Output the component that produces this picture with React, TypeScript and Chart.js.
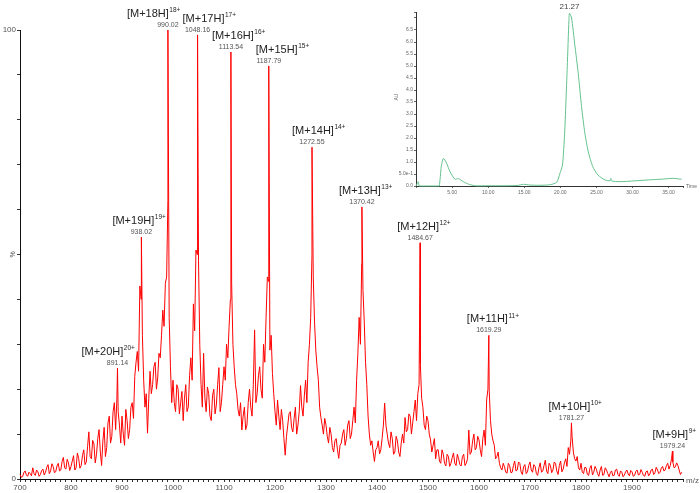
import React, { useEffect, useRef } from 'react';
import { Chart, registerables } from 'chart.js';

Chart.register(...registerables);

const FONT = '"Liberation Sans", Arial, Helvetica, sans-serif';

// ---- Mass spectrum (m/z vs relative intensity %) ----
// samples at 700, 705, 710, ... 1995
const noiseStartMz = 700;
const noiseStepMz = 5;
const noiseIntensity = [
  1.0, 0.5, 1.8, 0.6, 1.2, 2.5, 0.8, 1.6, 1.0, 2.2,
  1.5, 3.2, 1.8, 2.8, 1.6, 3.5, 2.0, 4.8, 2.2, 3.6,
  2.8, 5.2, 2.5, 4.6, 3.0, 6.5, 3.8, 10.5, 4.5, 7.8,
  5.5, 11.0, 3.0, 11.5, 7.0, 14.0, 9.5, 17.0, 18.0, 12.0,
  14.0, 7.5, 13.0, 11.0, 17.0, 22.8, 28.4, 43.0, 32.0, 16.0,
  10.2, 24.0, 21.0, 26.0, 22.5, 27.0, 37.6, 43.6, 62.0, 25.0,
  22.0, 15.0, 20.0, 17.0, 13.0, 21.0, 16.0, 27.0, 39.0, 51.0,
  48.7, 21.0, 28.0, 15.0, 19.0, 13.0, 20.0, 16.5, 24.8, 17.0,
  25.0, 30.0, 34.0, 43.6, 25.0, 19.0, 14.0, 10.9, 16.0, 12.0,
  20.0, 14.0, 33.2, 19.0, 25.0, 18.0, 26.0, 45.0, 28.7, 23.5,
  15.0, 17.6, 11.0, 13.0, 5.3, 12.0, 15.0, 10.5, 16.0, 12.0,
  20.8, 14.0, 22.0, 26.0, 36.0, 45.0, 28.7, 22.0, 13.7, 10.0,
  12.0, 8.0, 10.0, 6.0, 9.0, 4.6, 8.0, 11.0, 9.0, 13.0,
  10.0, 16.0, 22.0, 36.0, 48.0, 35.0, 21.0, 10.0, 8.5, 3.9,
  7.0, 5.6, 9.0, 16.9, 10.0, 7.0, 9.0, 6.0, 8.5, 5.0,
  10.0, 13.7, 11.0, 14.0, 12.5, 17.6, 19.0, 25.7, 16.0, 11.0,
  13.0, 8.7, 7.5, 4.5, 6.5, 3.5, 5.5, 2.9, 5.0, 3.5,
  5.8, 3.0, 4.5, 2.9, 5.5, 3.5, 10.9, 6.0, 10.0, 7.0,
  8.7, 5.0, 10.9, 17.6, 19.8, 10.0, 7.5, 5.0, 3.5, 2.0,
  2.7, 1.3, 3.0, 1.5, 4.0, 2.0, 3.5, 1.0, 3.2, 1.6,
  3.8, 1.5, 2.8, 0.8, 3.6, 1.8, 4.2, 1.2, 3.0, 2.0,
  3.5, 1.0, 4.0, 2.2, 4.5, 7.0, 8.5, 6.0, 4.0, 2.5,
  3.5, 1.2, 2.5, 0.8, 3.0, 1.5, 2.2, 0.6, 2.8, 1.0,
  2.0, 0.5, 1.8, 0.8, 2.2, 0.6, 1.5, 0.9, 2.0, 0.7,
  1.6, 0.8, 2.0, 1.0, 1.5, 0.6, 1.8, 1.1, 2.2, 1.4,
  2.0, 1.5, 2.8, 2.0, 3.5, 3.0, 3.8, 2.7, 3.0, 1.0,
];

// samples at 702.5, 707.5, 712.5, ... 1997.5
const midStartMz = 702.5;
const midIntensity = [
  0.4, 1.4, 0.9, 1.5, 0.7, 1.2, 2.0, 0.6, 1.9, 0.9,
  2.6, 1.2, 3.4, 1.4, 2.9, 1.8, 3.9, 2.5, 4.4, 1.9,
  4.0, 2.0, 5.8, 2.4, 5.2, 3.2, 7.2, 5.0, 8.6, 3.6,
  9.0, 6.0, 8.5, 5.0, 12.5, 8.0, 15.0, 11.0, 15.0, 8.0,
  10.0, 15.5, 9.0, 16.0, 13.5, 26.0, 24.0, 40.0, 22.0, 19.0,
  18.0, 19.0, 25.0, 20.0, 28.0, 32.0, 34.0, 45.0, 36.0, 17.0,
  17.0, 21.0, 14.5, 19.5, 18.0, 15.0, 23.0, 22.0, 33.0, 50.0,
  30.0, 16.0, 18.0, 20.5, 14.0, 18.5, 14.5, 21.0, 15.0, 21.0,
  22.0, 27.0, 40.0, 30.0, 21.0, 15.5, 17.0, 14.0, 11.0, 17.0,
  16.0, 21.0, 17.0, 23.0, 20.0, 30.0, 36.0, 44.0, 32.0, 19.0,
  12.0, 14.0, 15.5, 9.0, 9.5, 14.5, 11.5, 13.5, 10.0, 15.0,
  16.0, 18.5, 17.0, 30.0, 50.0, 35.0, 25.0, 16.0, 12.0, 13.5,
  9.5, 11.5, 7.0, 8.5, 6.5, 7.5, 10.0, 7.5, 12.0, 9.0,
  13.0, 12.5, 28.0, 30.0, 42.0, 26.0, 14.0, 7.5, 6.0, 6.5,
  8.5, 6.5, 12.0, 12.0, 8.0, 10.5, 5.5, 9.5, 6.0, 8.0,
  8.0, 10.5, 14.5, 10.0, 15.0, 13.0, 21.0, 18.0, 12.0, 14.0,
  10.0, 6.0, 9.0, 6.5, 4.0, 6.5, 3.5, 5.5, 2.8, 4.8,
  3.5, 5.5, 3.2, 5.0, 3.0, 4.5, 5.5, 8.5, 6.5, 9.5,
  6.5, 9.0, 7.5, 20.0, 13.0, 8.5, 4.5, 6.0, 2.5, 3.5,
  1.5, 3.5, 1.4, 3.0, 1.8, 3.8, 1.6, 2.8, 1.2, 3.0,
  2.0, 3.2, 1.2, 2.5, 1.5, 3.0, 1.8, 3.5, 1.4, 3.8,
  1.8, 3.0, 1.6, 3.6, 2.8, 5.5, 9.5, 4.5, 5.0, 2.0,
  1.5, 2.6, 1.0, 2.4, 0.9, 2.8, 1.2, 2.0, 0.8, 2.5,
  1.2, 1.4, 0.7, 2.0, 1.0, 1.8, 0.5, 1.6, 1.1, 1.9,
  0.6, 1.7, 0.9, 2.1, 0.8, 1.6, 0.7, 2.0, 1.0, 2.6,
  1.2, 2.4, 1.8, 3.0, 2.2, 4.5, 2.5, 3.6, 2.0, 1.5,
];

const peakMz = [891.14, 938.02, 990.02, 1048.16, 1113.54, 1187.79, 1272.55, 1370.42, 1484.67, 1619.29, 1781.27, 1979.24];
const peakIntensity = [24.7, 53.9, 100, 98.9, 95.1, 92.0, 73.9, 60.6, 52.6, 32.0, 12.5, 6.2];
const peakCharge = [20, 19, 18, 17, 16, 15, 14, 13, 12, 11, 10, 9];

const xTickLabels = ['700', '800', '900', '1000', '1100', '1200', '1300', '1400', '1500', '1600', '1700', '1800', '1900'];
const yTickLabels = ['0', '100'];

// label placement (style, not data)
const peakLabelDx = [-36, -29, -41, -15, -19, -13, -20, -23, -23, -22, -23, -20];

// ---- Inset chromatogram (Time vs AU) ----
const lcTime = [0, 0.32, 0.45, 1, 2, 3, 3.23, 3.5, 3.78, 4.24, 4.71, 5.4, 5.87, 6.55, 7.25, 8.2, 10, 12, 14, 14.9, 15.8, 17, 18.5, 19.5, 19.95, 20.3, 20.6, 20.96, 21.19, 21.27, 21.56, 22.0, 22.48, 22.94, 23.4, 23.87, 24.5, 25.2, 26.2, 26.9, 27.0, 27.1, 28.25, 30.1, 32.0, 34.3, 35.6, 36.8];
const lcAbsorbance = [0, 0.18, 0, 0, 0, 0, 0, 0.8, 1.15, 0.95, 0.6, 0.28, 0.31, 0.18, 0.08, 0.01, 0.01, 0.01, 0.02, 0.07, 0.04, 0.03, 0.05, 0.15, 0.53, 0.87, 2.2, 4.97, 6.9, 7.2, 7.0, 5.9, 4.7, 3.31, 2.2, 1.43, 0.8, 0.46, 0.25, 0.22, 0.32, 0.21, 0.18, 0.21, 0.25, 0.29, 0.32, 0.28];
const lcPeakTime = 21.27;
const lcPeakValue = 7.2;

function buildSpectrum() {
  const pts: { x: number; y: number }[] = noiseIntensity.map((v, i) => ({ x: noiseStartMz + i * noiseStepMz, y: v }));
  midIntensity.forEach((v, i) => pts.push({ x: midStartMz + i * noiseStepMz, y: v }));
  peakMz.forEach((mz, i) => pts.push({ x: mz, y: peakIntensity[i] }));
  pts.sort((a, b) => a.x - b.x);
  return pts;
}

const peakLabelPlugin = {
  id: 'peakLabels',
  afterDatasetsDraw(chart: any) {
    const { ctx, scales } = chart;
    const x = scales.x;
    const y = scales.y;
    ctx.save();
    ctx.textBaseline = 'middle';
    peakMz.forEach((mz, i) => {
      const px = x.getPixelForValue(mz);
      const py = y.getPixelForValue(peakIntensity[i]);
      ctx.font = `7px ${FONT}`;
      ctx.fillStyle = '#555';
      ctx.textAlign = 'center';
      ctx.fillText(mz.toFixed(2), px, py - 5);
      const main = `[M+${peakCharge[i]}H]`;
      ctx.font = `11px ${FONT}`;
      ctx.fillStyle = '#222';
      ctx.textAlign = 'left';
      const lx = px + peakLabelDx[i];
      ctx.fillText(main, lx, py - 16);
      const w = ctx.measureText(main).width;
      ctx.font = `6.5px ${FONT}`;
      ctx.fillText(`${peakCharge[i]}+`, lx + w + 0.5, py - 19.5);
    });
    ctx.restore();
  },
};

const mainAxisTextPlugin = {
  id: 'mainAxisText',
  afterDraw(chart: any) {
    const { ctx, chartArea } = chart;
    ctx.save();
    ctx.fillStyle = '#555';
    ctx.font = `8px ${FONT}`;
    ctx.textBaseline = 'middle';
    ctx.textAlign = 'left';
    ctx.fillText('m/z', chartArea.right + 3, chartArea.bottom + 2);
    ctx.translate(13, (chartArea.top + chartArea.bottom) / 2);
    ctx.rotate(-Math.PI / 2);
    ctx.textAlign = 'center';
    ctx.font = `7px ${FONT}`;
    ctx.fillText('%', 0, 0);
    ctx.restore();
  },
};

const insetTextPlugin = {
  id: 'insetText',
  afterDraw(chart: any) {
    const { ctx, chartArea, scales } = chart;
    ctx.save();
    ctx.textBaseline = 'middle';
    ctx.fillStyle = '#444';
    ctx.font = `8px ${FONT}`;
    ctx.textAlign = 'center';
    const px = scales.x.getPixelForValue(lcPeakTime);
    const py = scales.y.getPixelForValue(lcPeakValue);
    ctx.fillText(lcPeakTime.toFixed(2), px, py - 6);
    ctx.fillStyle = '#666';
    ctx.font = `5px ${FONT}`;
    ctx.textAlign = 'left';
    ctx.fillText('Time', chartArea.right + 3, chartArea.bottom + 1);
    ctx.translate(17, (chartArea.top + chartArea.bottom) / 2 - 2);
    ctx.rotate(-Math.PI / 2);
    ctx.textAlign = 'center';
    ctx.fillText('AU', 0, 0);
    ctx.restore();
  },
};

export default function App() {
  const mainRef = useRef<HTMLCanvasElement | null>(null);
  const insetRef = useRef<HTMLCanvasElement | null>(null);

  useEffect(() => {
    const spectrum = buildSpectrum();
    const main = new Chart(mainRef.current as HTMLCanvasElement, {
      type: 'line',
      data: {
        datasets: [
          {
            data: spectrum,
            borderColor: '#ff0000',
            borderWidth: 1,
            pointRadius: 0,
            tension: 0,
            fill: false,
            clip: false as any,
          },
        ],
      },
      options: {
        animation: false,
        responsive: false,
        devicePixelRatio: 1,
        layout: { padding: { top: 30, right: 17, left: 0, bottom: 0 } },
        plugins: { legend: { display: false }, tooltip: { enabled: false } },
        scales: {
          x: {
            type: 'linear',
            min: 700,
            max: 2000,
            afterFit: (s: any) => {
              s.height = 14;
            },
            grid: { display: true, drawOnChartArea: false, drawTicks: true, tickLength: 3, color: '#333' },
            border: { display: true, color: '#111', width: 1 },
            ticks: {
              stepSize: 10,
              autoSkip: false,
              maxRotation: 0,
              minRotation: 0,
              padding: 1,
              color: '#555',
              font: { size: 8, family: FONT },
              callback: (v: any) => (xTickLabels.includes(String(v)) ? String(v) : ''),
            },
          },
          y: {
            min: 0,
            max: 100,
            afterFit: (s: any) => {
              s.width = 20;
            },
            grid: { display: true, drawOnChartArea: false, drawTicks: true, tickLength: 3, color: '#333' },
            border: { display: true, color: '#111', width: 1 },
            ticks: {
              stepSize: 10,
              autoSkip: false,
              padding: 1,
              color: '#555',
              font: { size: 8, family: FONT },
              callback: (v: any) => (yTickLabels.includes(String(v)) ? String(v) : ''),
            },
          },
        },
      } as any,
      plugins: [peakLabelPlugin, mainAxisTextPlugin],
    });

    const lcPoints = lcTime.map((t, i) => ({ x: t, y: lcAbsorbance[i] }));
    const inset = new Chart(insetRef.current as HTMLCanvasElement, {
      type: 'line',
      data: {
        datasets: [
          {
            data: lcPoints,
            borderColor: '#63c28e',
            borderWidth: 1,
            pointRadius: 0,
            tension: 0.2,
            fill: false,
            clip: false as any,
          },
        ],
      },
      options: {
        animation: false,
        responsive: false,
        devicePixelRatio: 1,
        layout: { padding: { top: 12, right: 17, left: 0, bottom: 0 } },
        plugins: { legend: { display: false }, tooltip: { enabled: false } },
        scales: {
          x: {
            type: 'linear',
            min: 0,
            max: 37,
            afterFit: (s: any) => {
              s.height = 14;
            },
            grid: { display: true, drawOnChartArea: false, drawTicks: true, tickLength: 2, color: '#666' },
            border: { display: true, color: '#333', width: 1 },
            ticks: {
              stepSize: 5,
              autoSkip: false,
              maxRotation: 0,
              minRotation: 0,
              padding: 2,
              color: '#666',
              font: { size: 5, family: FONT },
              callback: (v: any) => (v > 0 && v % 5 === 0 ? Number(v).toFixed(2) : ''),
            },
          },
          y: {
            min: 0,
            max: 7.25,
            afterFit: (s: any) => {
              s.width = 36;
            },
            grid: { display: true, drawOnChartArea: false, drawTicks: true, tickLength: 2, color: '#666' },
            border: { display: true, color: '#333', width: 1 },
            ticks: {
              stepSize: 0.5,
              autoSkip: false,
              padding: 1,
              color: '#666',
              font: { size: 5, family: FONT },
              callback: (v: any) => {
                if (v === 0) return '0.0';
                if (v === 0.5) return '5.0e-1';
                if (v <= 6.5 && Math.abs(v * 2 - Math.round(v * 2)) < 1e-9) return Number(v).toFixed(1);
                return '';
              },
            },
          },
        },
      } as any,
      plugins: [insetTextPlugin],
    });

    return () => {
      main.destroy();
      inset.destroy();
    };
  }, []);

  return (
    <div style={{ position: 'absolute', left: 0, top: 0, width: 700, height: 493, background: '#fff', overflow: 'hidden' }}>
      <canvas ref={mainRef} width={700} height={493} style={{ position: 'absolute', left: 0, top: 0, width: 700, height: 493 }} />
      <canvas ref={insetRef} width={320} height={200} style={{ position: 'absolute', left: 380, top: 0, width: 320, height: 200 }} />
    </div>
  );
}
